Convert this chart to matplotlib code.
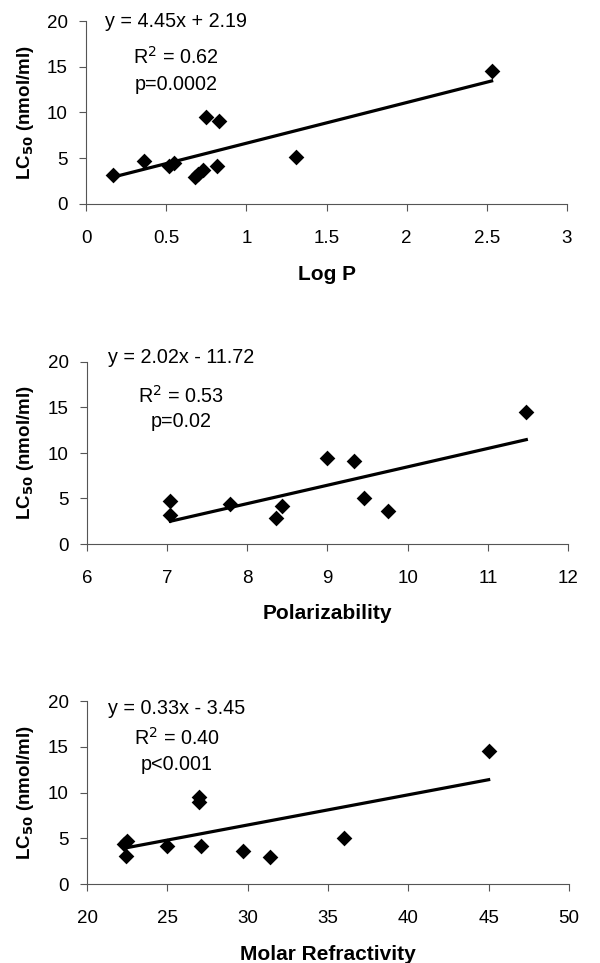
import numpy as np
import matplotlib
matplotlib.use("Agg")
import matplotlib.pyplot as plt

plt.rcParams['font.family'] = ['Liberation Sans', 'DejaVu Sans']

# Panel 1: Log P
logp_x = [0.17, 0.36, 0.52, 0.55, 0.68, 0.70, 0.73, 0.75, 0.83, 0.82, 1.31, 2.53]
logp_y = [3.2, 4.7, 4.2, 4.5, 2.9, 3.3, 3.7, 9.5, 9.1, 4.2, 5.1, 14.5]
logp_fit = (4.45, 2.19)
logp_text = ["y = 4.45x + 2.19", "R$^2$ = 0.62", "p=0.0002"]

# Panel 2: Polarizability
pol_x = [7.04, 7.04, 7.79, 8.36, 8.43, 8.99, 9.33, 9.46, 9.76, 11.48]
pol_y = [4.7, 3.2, 4.4, 2.9, 4.2, 9.5, 9.1, 5.1, 3.6, 14.5]
pol_fit = (2.02, -11.72)
pol_text = ["y = 2.02x - 11.72", "R$^2$ = 0.53", "p=0.02"]

# Panel 3: Molar Refractivity
mr_x = [22.3, 22.5, 22.4, 25.0, 27.0, 27.0, 27.1, 29.7, 31.4, 36.0, 45.0]
mr_y = [4.4, 4.7, 3.1, 4.1, 9.5, 9.0, 4.1, 3.6, 2.9, 5.0, 14.5]
mr_fit = (0.33, -3.45)
mr_text = ["y = 0.33x - 3.45", "R$^2$ = 0.40", "p<0.001"]

W, H = 600, 963
fig = plt.figure(figsize=(W / 100, H / 100), dpi=100)

def px_axes(l, t, r, b):
    return fig.add_axes([l / W, 1 - b / H, (r - l) / W, (b - t) / H])

panels = [
    dict(box=(86, 21, 567, 204), x=logp_x, y=logp_y, fit=logp_fit, xlim=(0, 3),
         xticks=[0, 0.5, 1, 1.5, 2, 2.5, 3], xticklabels=["0", "0.5", "1", "1.5", "2", "2.5", "3"],
         xlabel="Log P", xlabel_base=280, text=logp_text, text_cx=176,
         text_base=[27, 64, 90.5]),
    dict(box=(87, 362, 568, 544), x=pol_x, y=pol_y, fit=pol_fit, xlim=(6, 12),
         xticks=[6, 7, 8, 9, 10, 11, 12], xticklabels=["6", "7", "8", "9", "10", "11", "12"],
         xlabel="Polarizability", xlabel_base=619, text=pol_text, text_cx=181,
         text_base=[363, 402.5, 426.5]),
    dict(box=(87, 701, 569, 884), x=mr_x, y=mr_y, fit=mr_fit, xlim=(20, 50),
         xticks=[20, 25, 30, 35, 40, 45, 50], xticklabels=["20", "25", "30", "35", "40", "45", "50"],
         xlabel="Molar Refractivity", xlabel_base=960, text=mr_text, text_cx=177,
         text_base=[714, 745, 770]),
]

for p in panels:
    ax = px_axes(*p["box"])
    x = np.array(p["x"]); y = np.array(p["y"])
    ax.scatter(x, y, marker='D', s=64, color='black', zorder=3, linewidths=0)
    m, c = p["fit"]
    xf = np.array([x.min(), x.max()])
    ax.plot(xf, m * xf + c, color='black', lw=2.3, zorder=2)
    ax.set_xlim(*p["xlim"])
    ax.set_ylim(0, 20)
    ax.set_xticks(p["xticks"])
    ax.set_xticklabels(p["xticklabels"])
    ax.set_yticks([0, 5, 10, 15, 20])
    for s in ["top", "right"]:
        ax.spines[s].set_visible(False)
    for s in ["left", "bottom"]:
        ax.spines[s].set_color('#555555')
        ax.spines[s].set_linewidth(0.8)
    ax.tick_params(direction='out', length=5, width=0.8, color='#555555',
                   labelsize=13.5)
    ax.tick_params(axis='x', pad=14)
    ax.tick_params(axis='y', pad=8)
    l, t, r, b = p["box"]
    fig.text(25 / W, 1 - (t + b) / 2 / H, "LC$_{\\mathbf{50}}$ (nmol/ml)", fontsize=13.5,
             fontweight='bold', rotation=90, ha='center', va='center')
    fig.text((l + r) / 2 / W, 1 - p["xlabel_base"] / H, p["xlabel"], fontsize=15,
             fontweight='bold', ha='center', va='baseline')
    for s, ty in zip(p["text"], p["text_base"]):
        fig.text(p["text_cx"] / W, 1 - ty / H, s, fontsize=14.2, ha='center', va='baseline')

fig.savefig("out.png", dpi=100)
